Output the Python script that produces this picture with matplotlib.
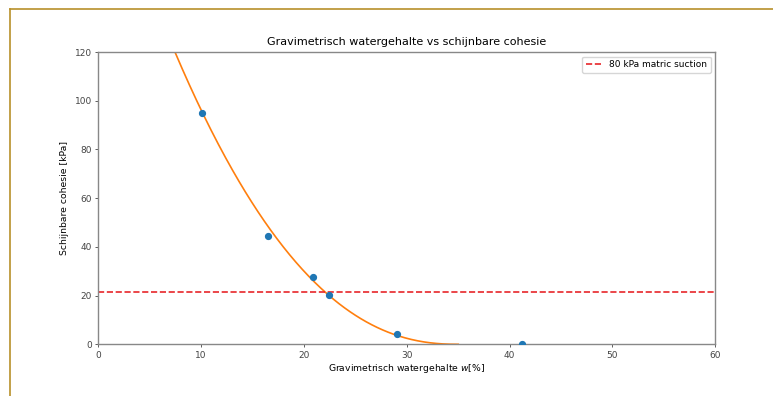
import numpy as np
from matplotlib import pyplot as plt
from matplotlib.lines import Line2D

# measured points (water content [%], apparent cohesion [kPa])
w_data = [10.05, 16.5, 20.9, 22.4, 29.0, 41.2]
c_data = [94.8, 44.6, 27.5, 20.4, 4.2, 0.0]

# fitted power curve c = a * (w0 - w)^n
fit_a = 0.0625
fit_w0 = 35.0
fit_n = 2.28

suction_level = 21.5  # cohesion at 80 kPa matric suction

fig = plt.figure(figsize=(7.73, 3.96), dpi=100)
ax = fig.add_axes([98.3 / 773, 1 - 344.3 / 396, (715.3 - 98.3) / 773, (344.3 - 52) / 396])

w_fit = np.linspace(0, fit_w0, 400)
c_fit = fit_a * np.clip(fit_w0 - w_fit, 0, None) ** fit_n

ax.plot(w_data, c_data, 'o', color='C0', ms=4.2, zorder=3)
ax.plot(w_fit, c_fit, color='C1', lw=1.2)
ax.axhline(suction_level, color='#e8262a', ls='--', lw=1.2, label='80 kPa matric suction')

ax.set_xlim(0, 60)
ax.set_ylim(0, 120)
ax.set_title('Gravimetrisch watergehalte vs schijnbare cohesie', fontsize=8, pad=5)
ax.set_xlabel('Gravimetrisch watergehalte $w$[%]', fontsize=6.7, labelpad=2)
ax.set_ylabel('Schijnbare cohesie [kPa]', fontsize=6.7, labelpad=4)
ax.tick_params(labelsize=6.5, length=2.5, width=0.6, pad=2, colors='#444444')
for s in ax.spines.values():
    s.set_color('#888888')
    s.set_linewidth(1.0)
ax.legend(loc='upper right', fontsize=6.5, handlelength=1.8, borderpad=0.4)

# gold frame at top and left edge
frame_col = '#b8902a'
fig.add_artist(Line2D([9.5 / 773, 1], [1 - 8.5 / 396, 1 - 8.5 / 396], color=frame_col, lw=1.2))
fig.add_artist(Line2D([9.5 / 773, 9.5 / 773], [0, 1 - 8.5 / 396], color=frame_col, lw=1.2))

fig.savefig('out.png', dpi=100)
